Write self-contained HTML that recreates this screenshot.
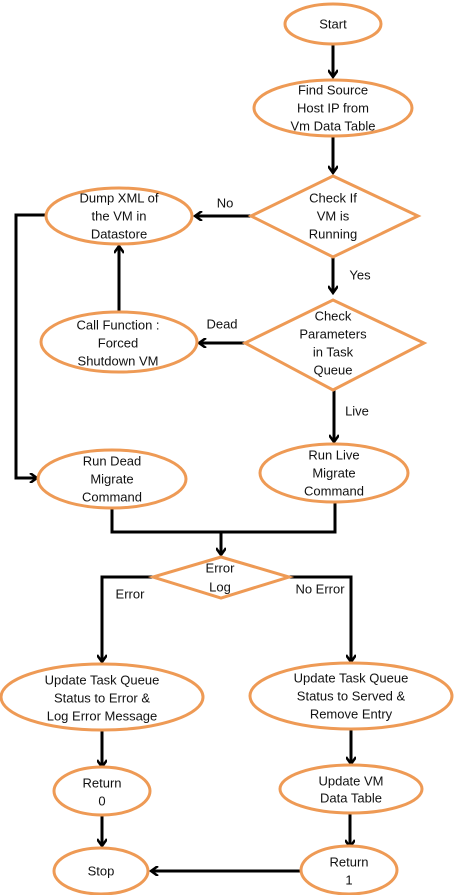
<!DOCTYPE html>
<html><head><meta charset="utf-8"><style>
html,body{margin:0;padding:0;background:#fff;}
svg{display:block;}
text{font-family:"Liberation Sans",sans-serif;font-size:13px;fill:#111;text-anchor:middle;dominant-baseline:central;}
.s{fill:#fff;stroke:#ee9a55;stroke-width:3;}
.l{fill:none;stroke:#000;stroke-width:3;}
</style></head><body>
<svg width="454" height="895" viewBox="0 0 454 895">
<defs><marker id="a" markerWidth="10" markerHeight="10" refX="8" refY="5" orient="auto" markerUnits="userSpaceOnUse"><path d="M1,0 L8,5 L1,10" fill="none" stroke="#000" stroke-width="2.5"/></marker></defs>
<path class="l" d="M333,44 V77" marker-end="url(#a)"/>
<path class="l" d="M333,137 V173" marker-end="url(#a)"/>
<path class="l" d="M251,216 H195" marker-end="url(#a)"/>
<path class="l" d="M46,215 H16 V478 H37" marker-end="url(#a)"/>
<path class="l" d="M119,312 V246" marker-end="url(#a)"/>
<path class="l" d="M333,257 V293" marker-end="url(#a)"/>
<path class="l" d="M245,343 H199" marker-end="url(#a)"/>
<path class="l" d="M334,390 V442" marker-end="url(#a)"/>
<path class="l" d="M112,508 V532 H335 V502"/>
<path class="l" d="M221,532 V555" marker-end="url(#a)"/>
<path class="l" d="M153,577 H102 V662" marker-end="url(#a)"/>
<path class="l" d="M289,577 H351 V662" marker-end="url(#a)"/>
<path class="l" d="M102,730 V767" marker-end="url(#a)"/>
<path class="l" d="M351,729 V764" marker-end="url(#a)"/>
<path class="l" d="M350,813 V847" marker-end="url(#a)"/>
<path class="l" d="M102,815 V846" marker-end="url(#a)"/>
<path class="l" d="M301,871 H151" marker-end="url(#a)"/>
<ellipse class="s" cx="333" cy="24" rx="48" ry="20"/>
<ellipse class="s" cx="333" cy="108" rx="79" ry="28"/>
<polygon class="s" points="333,176 418,216 333,257 251,216"/>
<ellipse class="s" cx="119" cy="216" rx="73" ry="28"/>
<polygon class="s" points="333,300 424,343 333,390 245,343"/>
<ellipse class="s" cx="119" cy="342" rx="78" ry="30"/>
<ellipse class="s" cx="334" cy="473" rx="74" ry="29"/>
<ellipse class="s" cx="112" cy="479" rx="74" ry="29"/>
<polygon class="s" points="221,557 289,577 221,598 153,577"/>
<ellipse class="s" cx="102" cy="697" rx="101" ry="33"/>
<ellipse class="s" cx="351" cy="696" rx="101" ry="33"/>
<ellipse class="s" cx="102" cy="791" rx="48" ry="24"/>
<ellipse class="s" cx="351" cy="789" rx="71" ry="24"/>
<ellipse class="s" cx="349" cy="870" rx="48" ry="24"/>
<ellipse class="s" cx="101" cy="871" rx="47" ry="23"/>
<text x="333" y="24">Start</text>
<text x="333" y="90">Find Source</text><text x="333" y="108">Host IP from</text><text x="333" y="126">Vm Data Table</text>
<text x="333" y="198">Check If</text><text x="333" y="216">VM is</text><text x="333" y="234">Running</text>
<text x="119" y="198">Dump XML of</text><text x="119" y="216">the VM in</text><text x="119" y="234">Datastore</text>
<text x="225" y="203">No</text>
<text x="360" y="275">Yes</text>
<text x="333" y="316">Check</text><text x="333" y="334">Parameters</text><text x="333" y="352">in Task</text><text x="333" y="370">Queue</text>
<text x="118" y="325">Call Function :</text><text x="118" y="343">Forced</text><text x="118" y="361">Shutdown VM</text>
<text x="222" y="324">Dead</text>
<text x="357" y="411">Live</text>
<text x="334" y="455">Run Live</text><text x="334" y="473">Migrate</text><text x="334" y="491">Command</text>
<text x="112" y="461">Run Dead</text><text x="112" y="479">Migrate</text><text x="112" y="497">Command</text>
<text x="220" y="568">Error</text><text x="220" y="587">Log</text>
<text x="130" y="594">Error</text>
<text x="320" y="589">No Error</text>
<text x="102" y="680">Update Task Queue</text><text x="102" y="698">Status to Error &amp;</text><text x="102" y="716">Log Error  Message</text>
<text x="351" y="678">Update Task Queue</text><text x="351" y="696">Status to Served &amp;</text><text x="351" y="714">Remove Entry</text>
<text x="102" y="783">Return</text><text x="102" y="801">0</text>
<text x="351" y="781">Update VM</text><text x="351" y="798">Data Table</text>
<text x="349" y="862">Return</text><text x="349" y="880">1</text>
<text x="101" y="871">Stop</text>
</svg>
</body></html>
